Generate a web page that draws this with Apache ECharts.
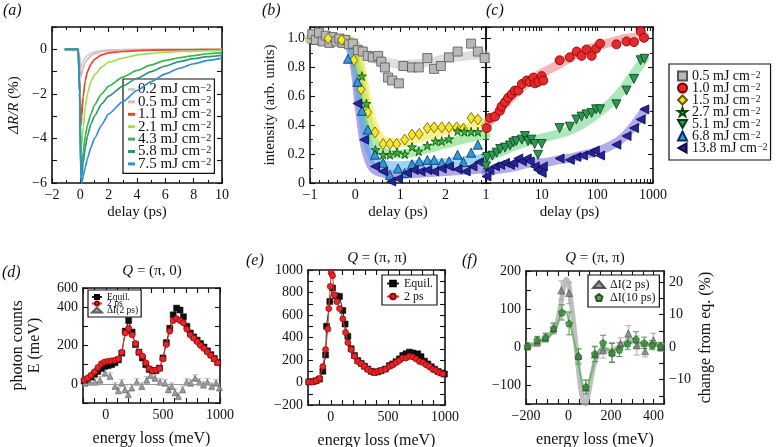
<!DOCTYPE html>
<html><head><meta charset="utf-8">
<script src="https://cdn.jsdelivr.net/npm/echarts@6/dist/echarts.min.js"></script>
<style>html,body{margin:0;padding:0;background:#fff}#c{width:776px;height:447px}</style>
</head><body><div id="c"></div>
<script>
// ---------------- Panel (a): reflectivity transients ----------------
const aDelay = [-1.1,-0.5,-0.15,-0.05,0.05,0.1,0.2,0.35,0.5,0.75,1,1.5,2,3,4,5,6,7,8,9,10];
const aFluence = ['0.2','0.5','1.1','2.1','4.3','5.8','7.5'];
const aR02 = [0,0,0,-0.3,-0.85,-0.75,-0.55,-0.38,-0.28,-0.18,-0.12,-0.06,-0.03,-0.01,0,0,0,0,0,0,0];
const aR05 = [0,0,0,-0.4,-1.25,-1.1,-0.85,-0.6,-0.45,-0.3,-0.2,-0.1,-0.06,-0.03,-0.02,-0.01,0,0,0,0,0];
const aR11 = [0,0,0,-1.2,-3.4,-3.0,-2.1,-1.4,-1.0,-0.67,-0.45,-0.25,-0.16,-0.1,-0.06,-0.04,-0.03,-0.02,-0.02,-0.01,-0.01];
const aR21 = [0,0,0,-1.6,-4.6,-4.3,-3.5,-2.6,-2.0,-1.45,-1.15,-0.8,-0.58,-0.4,-0.25,-0.18,-0.13,-0.1,-0.08,-0.06,-0.05];
const aR43 = [0,0,0,-2,-5.6,-5.3,-4.6,-3.9,-3.4,-2.9,-2.5,-2.0,-1.65,-1.25,-0.95,-0.7,-0.5,-0.38,-0.28,-0.2,-0.15];
const aR58 = [0,0,0,-2,-5.9,-5.7,-5.1,-4.4,-3.9,-3.35,-3.0,-2.45,-2.1,-1.65,-1.3,-1.0,-0.75,-0.55,-0.42,-0.33,-0.27];
const aR75 = [0,0,0,-2,-6.0,-6.0,-5.7,-5.3,-4.9,-4.4,-4.0,-3.4,-2.9,-2.35,-1.85,-1.45,-1.1,-0.85,-0.65,-0.5,-0.4];
const aColors = ['#cdcdcd','#d9b9b9','#e8452e','#9fe04a','#3cb44a','#2a9a74','#2f8fd8'];

// ---------------- Panel (b): intensity vs delay, linear ----------------
const bSq05 = [[-0.95,1.03],[-0.87,0.99],[-0.8,1.04],[-0.72,0.98],[-0.65,1.02],[-0.57,0.97],[-0.5,1.01],[-0.42,0.98],[-0.35,1.0],[-0.28,0.97],[-0.22,0.99],[-0.14,0.96],[-0.05,0.965],[0.06,0.92],[0.17,0.91],[0.28,0.88],[0.39,0.87],[0.51,0.88],[0.58,0.84],[0.66,0.80],[0.73,0.73],[0.82,0.71],[0.97,0.69],[1.07,0.81],[1.26,0.80],[1.41,0.80],[1.6,0.865],[1.75,0.79],[1.9,0.81],[2.08,0.87],[2.27,0.91],[2.57,0.965],[2.72,0.91],[2.87,0.865]];
const bDia15 = [[-0.6,1.0],[-0.3,0.99],[-0.03,0.85],[0.13,0.65],[0.28,0.49],[0.44,0.35],[0.62,0.27],[0.77,0.27],[0.92,0.27],[1.1,0.30],[1.26,0.335],[1.42,0.34],[1.6,0.38],[1.75,0.385],[1.92,0.385],[2.08,0.385],[2.25,0.385],[2.4,0.375],[2.57,0.45],[2.72,0.44]];
const bStar27 = [[0.15,0.74],[0.25,0.55],[0.45,0.23],[0.62,0.196],[0.77,0.196],[0.93,0.21],[1.1,0.2],[1.26,0.25],[1.41,0.22],[1.6,0.26],[1.78,0.29],[1.92,0.29],[2.08,0.305],[2.27,0.36],[2.42,0.355],[2.57,0.355],[2.72,0.355]];
const bTri68 = [[-0.16,0.86],[0.05,0.7],[0.15,0.5],[0.28,0.37],[0.44,0.196],[0.62,0.14],[0.77,0.056],[0.95,0.1],[1.1,0.07],[1.26,0.13],[1.42,0.15],[1.6,0.16],[1.75,0.16],[1.92,0.14],[2.08,0.15],[2.27,0.196],[2.4,0.145],[2.57,0.21],[2.72,0.265]];
const bLeft138 = [[0.05,0.55],[0.2,0.3],[0.44,0.115],[0.62,0.08],[0.8,0.01],[0.95,0.03],[1.15,0.07],[1.3,0.09],[1.45,0.08],[1.6,0.09],[1.75,0.08],[1.92,0.1],[2.08,0.115],[2.27,0.095],[2.45,0.08],[2.6,0.115],[2.75,0.145]];
const bFitT = [-1,-0.5,-0.2,-0.1,0,0.1,0.2,0.3,0.4,0.5,0.6,0.8,1.0,1.5,2.0,2.5,2.9];
const bFit05 = [1.0,1.0,0.99,0.98,0.96,0.93,0.9,0.88,0.86,0.85,0.84,0.83,0.82,0.83,0.86,0.88,0.89];
const bFit15 = [1.0,1.0,1.0,0.99,0.96,0.85,0.68,0.52,0.41,0.34,0.3,0.28,0.28,0.32,0.36,0.39,0.42];
const bFit27 = [1.0,1.0,0.99,0.98,0.93,0.78,0.58,0.42,0.31,0.25,0.22,0.2,0.2,0.23,0.27,0.31,0.33];
const bFit68 = [1.0,1.0,0.98,0.95,0.85,0.62,0.4,0.25,0.17,0.14,0.13,0.12,0.12,0.13,0.14,0.16,0.17];
const bFit138 = [0.99,0.99,0.97,0.93,0.78,0.5,0.28,0.16,0.1,0.08,0.07,0.06,0.06,0.07,0.08,0.09,0.1];

// ---------------- Panel (c): intensity vs delay, log ----------------
const cCirc10 = [[1.03,0.38],[1.18,0.45],[1.45,0.46],[1.78,0.50],[1.9,0.53],[2.2,0.56],[2.5,0.59],[2.9,0.615],[3.3,0.64],[3.8,0.64],[4.4,0.685],[5.4,0.71],[6.1,0.70],[7.1,0.73],[7.6,0.69],[8.7,0.70],[10,0.74],[10.7,0.71],[21,0.85],[32,0.87],[42.5,0.91],[52,0.88],[64,0.925],[79,0.88],[95,0.93],[112,0.965],[220,0.96],[335,0.98],[455,0.975],[600,1.05],[690,1.005]];
const cDown51 = [[1.0,0.115],[1.05,0.18],[1.3,0.19],[1.55,0.21],[1.8,0.235],[2.2,0.245],[2.7,0.26],[3.1,0.28],[3.5,0.29],[4.4,0.30],[5.0,0.325],[5.7,0.29],[6.5,0.30],[7.5,0.27],[8.6,0.195],[10,0.27],[21,0.38],[32,0.39],[42,0.44],[52,0.46],[64,0.475],[79,0.485],[95,0.51],[112,0.51],[220,0.545],[335,0.64],[455,0.72],[600,0.85],[700,0.86]];
const cLeft138 = [[1.02,0.045],[1.15,0.09],[1.45,0.115],[1.8,0.125],[2.2,0.14],[2.7,0.125],[3.1,0.14],[3.8,0.17],[4.4,0.15],[5.4,0.17],[6.1,0.15],[7.5,0.115],[8.6,0.09],[10,0.07],[10.5,0.115],[21,0.17],[32,0.16],[42,0.18],[55,0.19],[75,0.21],[90,0.225],[112,0.19],[220,0.265],[335,0.325],[455,0.38],[600,0.44],[700,0.51]];
const cFitT = [1,1.5,2,3,5,7,10,20,30,50,100,200,300,500,700];
const cFit10 = [0.4,0.47,0.53,0.6,0.68,0.72,0.76,0.82,0.86,0.9,0.95,0.98,1.0,1.01,1.02];
const cFit51 = [0.17,0.2,0.22,0.25,0.28,0.3,0.31,0.34,0.36,0.4,0.48,0.58,0.66,0.78,0.86];
const cFit138 = [0.07,0.09,0.1,0.11,0.13,0.14,0.14,0.16,0.17,0.19,0.22,0.27,0.32,0.42,0.5];

// ---------------- Panel (d): RIXS Q=(pi,0) ----------------
const dLoss = [-190,-160,-130,-100,-70,-40,-10,20,50,80,110,140,170,200,230,260,290,320,350,380,410,440,470,500,530,560,590,620,650,680,710,740,770,800,830,860,890,920,950,980];
const dEquil = [15,22,35,50,65,80,92,95,100,110,125,160,275,330,270,205,165,135,100,75,68,70,82,135,215,290,360,395,385,350,300,265,245,228,210,192,172,152,132,112];
const d2ps = [20,30,45,63,85,105,114,118,120,123,130,165,265,290,255,210,165,145,110,80,70,72,80,130,205,275,330,340,330,318,285,255,238,220,200,185,166,148,130,110];
const dDelta = [[-183,4],[-139,10],[-95,10],[-51,20],[-7,57],[37,40],[81,-12],[110,-35],[139,5],[168,-30],[197,-55],[227,-20],[271,10],[315,-13],[358,20],[393,45],[431,30],[475,10],[518,5],[547,-30],[577,-13],[606,-45],[635,-65],[673,-30],[708,10],[744,5],[782,30],[819,10],[855,-5],[890,10],[928,-13],[966,5],[995,-20]];

// ---------------- Panel (e): RIXS Q=(pi,pi) ----------------
const eEquil = [[-193,5],[-158,8],[-129,15],[-100,30],[-70,100],[-46,245],[-38,500],[-9,720],[15,840],[47,770],[76,765],[105,640],[125,520],[149,410],[178,300],[207,240],[236,195],[266,170],[295,145],[324,120],[353,100],[382,90],[411,95],[440,105],[478,120],[513,150],[542,165],[571,185],[601,210],[630,240],[659,255],[688,270],[717,262],[761,255],[790,230],[820,190],[850,165],[880,140],[910,118],[940,98],[970,85],[995,75]];
const e2ps = [[-193,5],[-158,5],[-129,15],[-100,36],[-70,142],[-46,293],[-26,475],[-18,657],[-5,854],[3,975],[15,950],[32,778],[53,718],[76,657],[105,566],[129,445],[149,354],[178,293],[207,233],[236,187],[266,166],[295,142],[324,118],[353,97],[382,88],[411,97],[440,106],[478,118],[513,142],[542,157],[571,178],[601,196],[630,218],[659,218],[688,233],[717,227],[746,209],[776,187],[805,178],[834,157],[863,142],[892,118],[921,106],[950,88],[980,76]];

// ---------------- Panel (f): difference spectra ----------------
const fD2 = [[-193,2],[-147,13],[-108,25],[-70,49],[-34,149],[3,142],[47,-23],[82,-107],[124,-20],[163,-9],[205,-13],[245,9],[282,36],[322,4],[361,-11],[400,18],[434,0]];
const fD2Err = [10,12,12,15,25,28,18,20,20,20,25,15,20,25,15,18,12];
const fD10 = [[-193,2],[-147,18],[-108,25],[-70,49],[-31,91],[3,62],[47,-25],[82,-105],[124,-18],[163,11],[205,-16],[240,-7],[279,9],[318,20],[357,11],[395,5],[434,2]];
const fD10Err = [8,10,10,12,20,30,20,18,20,20,25,18,15,20,15,12,10];
const fFitX = [-200,-150,-100,-60,-40,-25,-10,0,10,25,40,55,70,80,95,110,130,160,200,250,300,350,400,450];
const fFit2 = [0,10,25,55,100,150,178,170,130,60,-20,-100,-145,-150,-120,-75,-30,-5,-10,5,20,5,8,2];
const fFit10 = [0,12,25,50,80,95,90,75,55,20,-20,-70,-105,-112,-95,-65,-25,0,-10,0,12,10,5,2];

// =====================================================================
const F = 'Liberation Serif';
const INK = '#111';
const minus = v => String(v).replace('-', '\u2212');

function deepMerge(a, b) {
  const out = Object.assign({}, a);
  for (const k in b) {
    const bv = b[k];
    if (bv && typeof bv === 'object' && !Array.isArray(bv) && out[k] && typeof out[k] === 'object' && !Array.isArray(out[k])) out[k] = deepMerge(out[k], bv);
    else out[k] = bv;
  }
  return out;
}
function axis(grid, position, cfg) {
  const base = {
    type: 'value', gridIndex: grid, position: position,
    axisLine: {show: true, onZero: false, lineStyle: {color: INK, width: 1.6}},
    axisTick: {show: true, inside: true, length: 5, lineStyle: {color: INK, width: 1.1}},
    minorTick: {show: false, length: 3, lineStyle: {color: INK, width: 1}},
    splitLine: {show: false}, minorSplitLine: {show: false},
    axisLabel: {show: false, color: INK, fontFamily: F, fontSize: 14, margin: 5},
    nameLocation: 'middle',
    nameTextStyle: {color: INK, fontFamily: F, fontSize: 15}
  };
  return deepMerge(base, cfg || {});
}
const lab = (fmt, extra) => Object.assign({axisLabel: {show: true, formatter: fmt}}, extra || {});

const aXc = {min: -2, max: 10, interval: 2, minorTick: {show: true, splitNumber: 2}};
const aYc = {min: -6, max: 1, interval: 1};
const bXc = {min: -1, max: 2.9, interval: 1, minorTick: {show: true, splitNumber: 5}};
const bYc = {min: 0, max: 1.08, interval: 0.2, minorTick: {show: true, splitNumber: 2}};
const cXc = {type: 'log', logBase: 10, min: 1, max: 1000, axisTick: {customValues: [1,2,3,4,5,6,7,8,9,10,20,30,40,50,60,70,80,90,100,200,300,400,500,600,700,800,900,1000], length: 4}};
const dXc = {min: -200, max: 1000, interval: 100};
const dYc = {min: -100, max: 500, interval: 100};
const eXc = {min: -200, max: 1000, interval: 100};
const eYc = {min: -200, max: 1000, interval: 100};
const fXc = {min: -200, max: 450, interval: 50};
const fYc = {min: -150, max: 200, interval: 50};
const fPc = {min: -17.5, max: 23.4, axisTick: {customValues: [-15,-10,-5,0,5,10,15,20]}};

const fmtB = v => { const r = Math.round(v * 10); if (Math.abs(v * 10 - r) > 1e-6 || r % 2) return ''; return r === 0 ? '0' : (r / 10).toFixed(1); };
const fmtEvery = n => v => (Math.abs(v % n) < 1e-9 ? minus(v) : '');

const xAxis = [
  axis(0, 'bottom', deepMerge(aXc, lab(minus, {name: 'delay (ps)', nameGap: 22}))),
  axis(0, 'top', aXc),
  axis(1, 'bottom', deepMerge(bXc, lab(v => Number.isInteger(v) ? minus(v) : '', {name: 'delay (ps)', nameGap: 22}))),
  axis(1, 'top', bXc),
  axis(2, 'bottom', deepMerge(cXc, lab(v => String(v), {name: 'delay (ps)', nameGap: 22}))),
  axis(2, 'top', cXc),
  axis(3, 'bottom', deepMerge(dXc, lab(v => (v === 0 || v === 500 || v === 1000) ? String(v) : '', {name: 'energy loss (meV)', nameGap: 28, nameTextStyle: {fontSize: 16}}))),
  axis(3, 'top', dXc),
  axis(4, 'bottom', deepMerge(eXc, lab(v => (v === 0 || v === 500 || v === 1000) ? String(v) : '', {name: 'energy loss (meV)', nameGap: 28, nameTextStyle: {fontSize: 16}}))),
  axis(4, 'top', eXc),
  axis(5, 'bottom', deepMerge(fXc, lab(fmtEvery(200), {name: 'energy loss (meV)', nameGap: 28, nameTextStyle: {fontSize: 16}}))),
  axis(5, 'top', fXc)
];
const yAxis = [
  axis(0, 'left', deepMerge(aYc, lab(fmtEvery(2), {name: '{i|\u0394R/R} (%)', nameGap: 30, nameTextStyle: {fontSize: 15, rich: {i: {fontStyle: 'italic', fontFamily: F, fontSize: 15, color: INK}}}}))),
  axis(0, 'right', aYc),
  axis(1, 'left', deepMerge(bYc, lab(fmtB, {name: 'intensity (arb. units)', nameGap: 32}))),
  axis(1, 'right', bYc),
  axis(2, 'left', bYc),
  axis(2, 'right', bYc),
  axis(3, 'left', deepMerge(dYc, lab(v => v === 500 ? '600' : ((v >= 0 && v % 200 === 0) ? String(v) : ''), {name: 'photon counts\nE (meV)', nameGap: 40, nameTextStyle: {fontSize: 16, lineHeight: 17}}))),
  axis(3, 'right', dYc),
  axis(4, 'left', deepMerge(eYc, lab(fmtEvery(200)))),
  axis(4, 'right', eYc),
  axis(5, 'left', deepMerge(fYc, lab(fmtEvery(100)))),
  axis(5, 'right', deepMerge(fPc, {axisLabel: {show: true, customValues: [-10, 0, 10, 20], formatter: minus}, name: 'change from eq. (%)', nameGap: 34, nameRotate: 90, nameTextStyle: {fontSize: 16}}))
];

const gridBase = {containLabel: false, outerBoundsMode: 'none'};
const grid = [
  Object.assign({left: 52, top: 27, width: 170, height: 156}, gridBase),
  Object.assign({left: 310, top: 27, width: 176, height: 156}, gridBase),
  Object.assign({left: 486, top: 27, width: 167, height: 156}, gridBase),
  Object.assign({left: 83, top: 288, width: 137, height: 115}, gridBase),
  Object.assign({left: 308, top: 270, width: 137, height: 135}, gridBase),
  Object.assign({left: 526, top: 271, width: 138, height: 133}, gridBase)
];

const STAR = 'path://M50,0 L61,35 L98,35 L68,57 L79,91 L50,70 L21,91 L32,57 L2,35 L39,35 Z';
const DOWN = 'path://M0,0 L10,0 L5,9 Z';
const LEFT = 'path://M9,0 L9,10 L0,5 Z';
const PENT = 'path://M5,0 L10,3.8 L8.1,10 L1.9,10 L0,3.8 Z';

const series = [];
// (a)
const aVals = [aR02, aR05, aR11, aR21, aR43, aR58, aR75];
aFluence.forEach((f, i) => {
  series.push({type: 'line', name: 'a:' + f, xAxisIndex: 0, yAxisIndex: 0,
    data: aDelay.map((x, j) => [x, aVals[i][j]]), symbol: 'none', showSymbol: false,
    smooth: 0.2, smoothMonotone: 'x', lineStyle: {color: aColors[i], width: 1.7},
    itemStyle: {color: aColors[i]}, z: 2 + i, silent: true});
});
function band(xi, xs, ys, color, width) {
  return {type: 'line', name: '_fit', xAxisIndex: xi, yAxisIndex: xi, data: xs.map((x, j) => [x, ys[j]]),
    symbol: 'none', showSymbol: false, smooth: 0.35, lineStyle: {color: color, width: width || 9, cap: 'round', join: 'round'}, z: 2, silent: true};
}
function scat(name, xi, data, sym, size, fill, stroke) {
  return {type: 'scatter', name: name, xAxisIndex: xi, yAxisIndex: xi, data: data, symbol: sym, symbolSize: size,
    itemStyle: {color: fill, borderColor: stroke, borderWidth: 0.8, opacity: 1}, z: 5, clip: true};
}
// (b) bands
series.push(band(2, bFitT, bFit138, 'rgba(95,80,205,0.5)'));
series.push(band(2, bFitT, bFit68, 'rgba(60,170,235,0.5)'));
series.push(band(2, bFitT, bFit27, 'rgba(90,215,90,0.5)'));
series.push(band(2, bFitT, bFit15, 'rgba(245,232,70,0.6)'));
series.push(band(2, bFitT, bFit05, 'rgba(190,190,190,0.5)'));
// (c) bands
series.push(band(4, cFitT, cFit10, 'rgba(240,120,120,0.55)'));
series.push(band(4, cFitT, cFit51, 'rgba(90,205,120,0.5)'));
series.push(band(4, cFitT, cFit138, 'rgba(100,90,215,0.5)'));
// markers
series.push(scat('c:0.5', 2, bSq05, 'rect', 9, '#b8b8b8', '#555'));
series.push(scat('c:1.5', 2, bDia15, 'diamond', [8, 11], '#f6e62a', '#6a5a00'));
series.push(scat('c:2.7', 2, bStar27, STAR, 9, '#3cb43c', '#0a4a0a'));
series.push(scat('c:6.8', 2, bTri68, 'triangle', 9, '#2e9ad8', '#0a2a6a'));
series.push(scat('c:13.8', 2, bLeft138, LEFT, 9, '#24249c', '#0a0a40'));
series.push(scat('c:1.0', 4, cCirc10, 'circle', 9, '#e8282a', '#7a0000'));
series.push(scat('c:5.1', 4, cDown51, DOWN, 9, '#2a9a50', '#0a3a1a'));
series.push(scat('c:13.8', 4, cLeft138, LEFT, 9, '#24249c', '#0a0a40'));

// error bars helper
function errBars(xi, pts, errs, color) {
  return {type: 'custom', name: '_err', xAxisIndex: xi, yAxisIndex: xi, silent: true, z: 3, clip: true,
    data: pts.map((p, j) => [p[0], p[1], errs[j]]), encode: {x: 0, y: 1},
    renderItem: function (params, api) {
      const x = api.value(0), y = api.value(1), e = api.value(2);
      const p1 = api.coord([x, y - e]), p2 = api.coord([x, y + e]);
      const w = 3, st = {stroke: color, lineWidth: 1};
      return {type: 'group', children: [
        {type: 'line', shape: {x1: p1[0], y1: p1[1], x2: p2[0], y2: p2[1]}, style: st},
        {type: 'line', shape: {x1: p1[0] - w, y1: p1[1], x2: p1[0] + w, y2: p1[1]}, style: st},
        {type: 'line', shape: {x1: p2[0] - w, y1: p2[1], x2: p2[0] + w, y2: p2[1]}, style: st}]};
    }};
}
// (d)
series.push({type: 'line', name: 'd:Equil.', xAxisIndex: 6, yAxisIndex: 6, data: dLoss.map((x, j) => [x, dEquil[j]]),
  symbol: 'rect', symbolSize: 6, lineStyle: {color: '#222', width: 1}, itemStyle: {color: '#111', borderColor: '#000', borderWidth: 0.5}, z: 4});
series.push({type: 'line', name: 'd:2 ps', xAxisIndex: 6, yAxisIndex: 6, data: dLoss.map((x, j) => [x, d2ps[j]]),
  symbol: 'circle', symbolSize: 6, lineStyle: {color: '#e33', width: 1}, itemStyle: {color: '#e3262a', borderColor: '#9a0000', borderWidth: 0.7}, z: 5});
series.push(errBars(6, dDelta, dDelta.map(() => 18), '#c4c4c4'));
series.push({type: 'scatter', name: 'd:\u0394I(2 ps)', xAxisIndex: 6, yAxisIndex: 6, data: dDelta,
  symbol: 'triangle', symbolSize: 6, itemStyle: {color: '#8a8a8a', borderColor: '#444', borderWidth: 0.6}, z: 4,
  markLine: {silent: true, symbol: 'none', label: {show: false}, lineStyle: {color: '#999', width: 1, type: 'solid'}, data: [{yAxis: 0}]}});
// (e)
series.push({type: 'line', name: 'e:Equil.', xAxisIndex: 8, yAxisIndex: 8, data: eEquil,
  symbol: 'rect', symbolSize: 6, lineStyle: {color: '#222', width: 1}, itemStyle: {color: '#111', borderColor: '#000', borderWidth: 0.5}, z: 4});
series.push({type: 'line', name: 'e:2 ps', xAxisIndex: 8, yAxisIndex: 8, data: e2ps,
  symbol: 'circle', symbolSize: 6, lineStyle: {color: '#e33', width: 1}, itemStyle: {color: '#e3262a', borderColor: '#9a0000', borderWidth: 0.7}, z: 5});
// (f)
series.push({type: 'line', name: '_fit2', xAxisIndex: 10, yAxisIndex: 10, data: fFitX.map((x, j) => [x, fFit2[j]]),
  symbol: 'none', smooth: 0.3, lineStyle: {color: 'rgba(170,170,170,0.75)', width: 5}, z: 2, silent: true});
series.push({type: 'line', name: '_fit10', xAxisIndex: 10, yAxisIndex: 10, data: fFitX.map((x, j) => [x, fFit10[j]]),
  symbol: 'none', smooth: 0.3, lineStyle: {color: 'rgba(100,180,100,0.85)', width: 2}, z: 3, silent: true});
series.push(errBars(10, fD2, fD2Err, '#aaaaaa'));
series.push(errBars(10, fD10, fD10Err, '#4a9a4a'));
series.push({type: 'scatter', name: 'f:\u0394I(2 ps)', xAxisIndex: 10, yAxisIndex: 10, data: fD2,
  symbol: 'triangle', symbolSize: 7, itemStyle: {color: '#7a7a7a', borderColor: '#333', borderWidth: 0.6}, z: 5});
series.push({type: 'scatter', name: 'f:\u0394I(10 ps)', xAxisIndex: 10, yAxisIndex: 10, data: fD10,
  symbol: PENT, symbolSize: 7, itemStyle: {color: '#2e8a2e', borderColor: '#0a3a0a', borderWidth: 0.6}, z: 6});

const strip = n => n.replace(/^[a-z]:/, '');
const unitFmt = n => '{n|' + strip(n) + ' mJ cm}{s|\u2212' + '2}';
const unitRich = (fs, lh) => ({n: {fontFamily: F, fontSize: fs, lineHeight: lh, color: INK}, s: {fontFamily: F, fontSize: fs * 0.68, lineHeight: lh, verticalAlign: 'top', color: INK, padding: [0, 0, 0, 0.5]}});
const legBase = {orient: 'vertical', selectedMode: false, itemGap: 0, borderColor: INK, borderWidth: 1.2, backgroundColor: '#fff', formatter: strip};
const legend = [
  Object.assign({}, legBase, {left: 123, top: 79, padding: [3, 3, 2, 5], icon: 'rect', itemWidth: 7, itemHeight: 3, itemGap: -2.6,
    data: aFluence.map(f => 'a:' + f), formatter: unitFmt, textStyle: {fontFamily: F, fontSize: 15, color: INK, padding: [0, 0, 0, -2], rich: unitRich(15, 12.5)}}),
  Object.assign({}, legBase, {left: 669, top: 64, padding: [5, 3, 5, 8], itemWidth: 9, itemHeight: 9, itemGap: -2,
    data: ['c:0.5', 'c:1.0', 'c:1.5', 'c:2.7', 'c:5.1', 'c:6.8', 'c:13.8'], formatter: unitFmt, textStyle: {fontFamily: F, fontSize: 14, color: INK, rich: unitRich(14, 11.6)}}),
  Object.assign({}, legBase, {left: 88, top: 290, padding: [2, 3, 2, 3], itemWidth: 10, itemHeight: 5, itemGap: -3.5,
    data: ['d:Equil.', 'd:2 ps', 'd:\u0394I(2 ps)'], textStyle: {fontFamily: F, fontSize: 9.5, color: INK}}),
  Object.assign({}, legBase, {left: 382, top: 275, padding: [2, 4, 2, 4], itemWidth: 12, itemHeight: 7,
    data: ['e:Equil.', 'e:2 ps'], textStyle: {fontFamily: F, fontSize: 12, lineHeight: 13, color: INK}}),
  Object.assign({}, legBase, {left: 588, top: 275, padding: [3, 4, 3, 4], itemWidth: 12, itemHeight: 7,
    data: ['f:\u0394I(2 ps)', 'f:\u0394I(10 ps)'], textStyle: {fontFamily: F, fontSize: 12, lineHeight: 13, color: INK}})
];

const tFont = 'italic 16px "Liberation Serif"';
const qRich = {i: {fontStyle: 'italic', fontFamily: F, fontSize: 15, fill: INK}, n: {fontFamily: F, fontSize: 15, fill: INK}};
function qText(x, y, tail) {
  return {type: 'text', x: x, y: y, style: {text: '{i|Q}{n| = (\u03C0, ' + tail + ')}', rich: qRich, align: 'center', fill: INK, font: '15px "Liberation Serif"'}};
}
const graphic = [
  {type: 'text', x: 3, y: 3, style: {text: '(a)', font: tFont, fill: INK}},
  {type: 'text', x: 262, y: 3, style: {text: '(b)', font: tFont, fill: INK}},
  {type: 'text', x: 486, y: 3, style: {text: '(c)', font: tFont, fill: INK}},
  {type: 'text', x: 2, y: 265, style: {text: '(d)', font: tFont, fill: INK}},
  {type: 'text', x: 246, y: 253, style: {text: '(e)', font: tFont, fill: INK}},
  {type: 'text', x: 462, y: 253, style: {text: '(f)', font: tFont, fill: INK}},
  qText(152, 264, '0'), qText(377, 251, '\u03C0'), qText(595, 251, '\u03C0')
];

const chart = echarts.init(document.getElementById('c'), null, {renderer: 'canvas', width: 776, height: 447});
chart.setOption({animation: false, backgroundColor: '#fff', grid: grid, xAxis: xAxis, yAxis: yAxis, series: series, legend: legend, graphic: graphic});
</script></body></html>
